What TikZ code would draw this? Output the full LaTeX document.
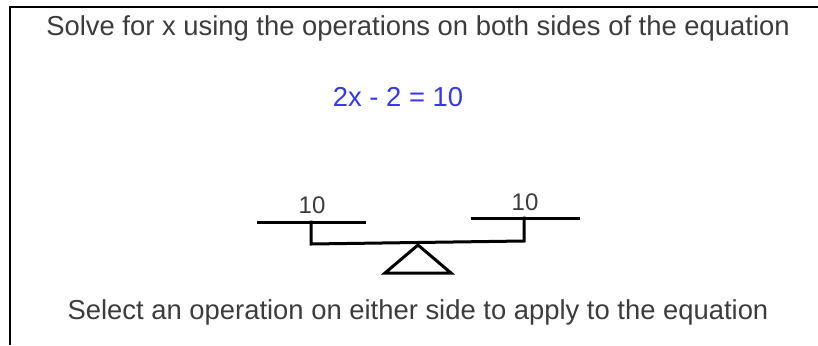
\documentclass[tikz,border=0pt]{standalone}
\usepackage{fontspec}
\setmainfont{Liberation Sans}
\definecolor{txtgray}{RGB}{60,60,60}
\definecolor{eqblue}{RGB}{55,55,235}
\begin{document}
\begin{tikzpicture}[x=1pt,y=-1pt,
  txt/.style={inner sep=0pt,anchor=base,font=\fontsize{27.4}{32}\selectfont,text=txtgray},
  lbl/.style={inner sep=0pt,anchor=base,font=\fontsize{24}{28}\selectfont,text=txtgray},
  frame/.style={line width=2pt,black},
  bar/.style={line width=3pt,black,line cap=rect,line join=miter}]
\useasboundingbox (0,0) rectangle (818,345);
\draw[frame] (10,345) -- (10,7) -- (818,7);
\node[txt] (title) at (418,35.5) {Solve for x using the operations on both sides of the equation};
\node[txt,text=eqblue] (eq) at (398,106.5) {2x - 2 = 10};
\node[txt] (hint) at (418,319) {Select an operation on either side to apply to the equation};
% seesaw
\coordinate (lpanL) at (258,222);
\coordinate (lpanR) at (364,222);
\coordinate (rpanL) at (472,218);
\coordinate (rpanR) at (578,218);
\coordinate (lpost) at (311,222);
\coordinate (rpost) at (524,218);
\coordinate (lbeam) at (311,244);
\coordinate (rbeam) at (524,241);
\coordinate (apex) at (418,245);
\coordinate (baseR) at (451,273);
\coordinate (baseL) at (385,273);
\draw[bar] (lpanL) -- (lpanR);
\draw[bar] (rpanL) -- (rpanR);
\draw[bar] (lpost) -- (lbeam) -- (rbeam) -- (rpost);
\draw[bar] (apex) -- (baseR) -- (baseL) -- cycle;
\node[lbl] (lw) at (312,213) {10};
\node[lbl] (rw) at (525,210.5) {10};
\end{tikzpicture}
\end{document}
